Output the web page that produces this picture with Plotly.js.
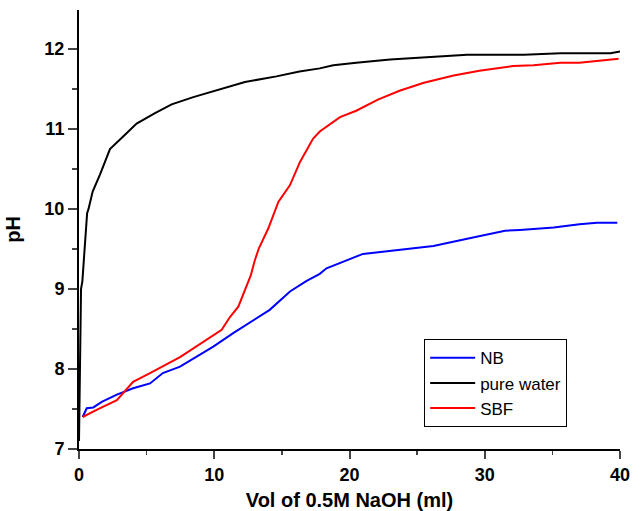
<!DOCTYPE html>
<html><head><meta charset="utf-8">
<script src="https://cdn.plot.ly/plotly-3.0.1.min.js"></script>
<style>html,body{margin:0;padding:0;background:#fff}</style>
</head><body>
<div id="chart" style="width:641px;height:511px"></div>
<script>
const seriesNames = ["NB", "pure water", "SBF"];
const seriesColors = ["#0000ff", "#000000", "#ff0000"];
const xTickVals = [0, 10, 20, 30, 40];
const yTickVals = [7, 8, 9, 10, 11, 12];

const nbX = [0.27, 0.57, 1.06, 1.68, 2.8, 4.0, 5.25, 6.2, 7.47, 9.93, 11.4, 14.1, 15.6, 16.8, 17.8, 18.3, 21.0, 23.2, 26.2, 28.7, 31.5, 32.6, 35.1, 37.0, 38.3, 39.8];
const nbY = [7.40, 7.51, 7.52, 7.59, 7.68, 7.76, 7.82, 7.95, 8.03, 8.28, 8.45, 8.74, 8.97, 9.10, 9.19, 9.26, 9.44, 9.48, 9.54, 9.63, 9.73, 9.74, 9.77, 9.81, 9.83, 9.83];

const waterX = [0.0, 0.08, 0.15, 0.25, 0.32, 0.4, 0.6, 0.7, 1.01, 1.55, 2.29, 3.4, 4.26, 5.62, 6.85, 8.45, 10.18, 12.27, 14.6, 16.3, 17.8, 18.8, 20.5, 23.0, 25.7, 28.7, 32.9, 35.6, 39.3, 40.0];
const waterY = [7.10, 8.3, 9.0, 9.1, 9.26, 9.51, 9.95, 10.0, 10.22, 10.43, 10.75, 10.93, 11.07, 11.2, 11.31, 11.40, 11.49, 11.59, 11.66, 11.72, 11.76, 11.80, 11.83, 11.87, 11.90, 11.93, 11.93, 11.95, 11.95, 11.97];

const sbfX = [0.27, 1.3, 2.8, 4.0, 5.25, 7.47, 10.55, 11.16, 11.78, 12.27, 12.7, 13.0, 13.3, 14.0, 14.74, 15.6, 16.34, 17.3, 17.8, 19.3, 20.5, 22.1, 23.7, 25.5, 27.7, 29.6, 32.1, 33.6, 35.6, 37.0, 39.9];
const sbfY = [7.40, 7.49, 7.61, 7.84, 7.95, 8.15, 8.49, 8.65, 8.78, 8.99, 9.17, 9.36, 9.51, 9.76, 10.09, 10.3, 10.59, 10.88, 10.97, 11.15, 11.23, 11.37, 11.48, 11.58, 11.67, 11.73, 11.79, 11.80, 11.83, 11.83, 11.88];

const xs = [nbX, waterX, sbfX];
const ys = [nbY, waterY, sbfY];

const data = seriesNames.map((n, i) => ({
  x: xs[i], y: ys[i], name: n, type: "scatter", mode: "lines",
  line: {color: seriesColors[i], width: 2}
}));

const FAM = "Liberation Sans, Arial, sans-serif";
const layout = {
  width: 641, height: 511,
  margin: {l: 79, r: 21, t: 10, b: 62},
  paper_bgcolor: "#fff", plot_bgcolor: "#fff",
  font: {family: FAM, color: "#000"},
  showlegend: true,
  legend: {
    x: 0.638, y: 0.25, xanchor: "left", yanchor: "top",
    bordercolor: "#000", borderwidth: 1, bgcolor: "#fff",
    font: {family: FAM, size: 17, color: "#000"},
    itemwidth: 45, tracegroupgap: 0
  },
  xaxis: {
    range: [0, 40], tickvals: xTickVals, ticktext: xTickVals.map(String),
    ticks: "outside", ticklen: 8, tickwidth: 2,
    minor: {dtick: 5, ticks: "outside", ticklen: 4, tickwidth: 1.5},
    showline: true, linewidth: 2, linecolor: "#000", showgrid: false, zeroline: false,
    tickfont: {family: FAM, size: 18, color: "#000", weight: 700},
    title: {text: "Vol of 0.5M NaOH (ml)", font: {size: 20, family: FAM, weight: 700}, standoff: 12}
  },
  yaxis: {
    range: [7, 12.49], tickvals: yTickVals, ticktext: yTickVals.map(String),
    ticks: "outside", ticklen: 9, tickwidth: 2,
    minor: {dtick: 0.5, ticks: "outside", ticklen: 5, tickwidth: 1.5},
    showline: true, linewidth: 2, linecolor: "#000", showgrid: false, zeroline: false,
    tickfont: {family: FAM, size: 18, color: "#000", weight: 700},
    title: {text: "pH", font: {size: 20, family: FAM, weight: 700}, standoff: 18}
  },
  xaxis2: {
    overlaying: "x", side: "top", anchor: "y", range: [0, 40], dtick: 5, ticks: "inside", ticklen: 4, tickwidth: 1.5,
    showticklabels: false, showline: true, linewidth: 2, linecolor: "#000", showgrid: false, zeroline: false
  },
  yaxis2: {
    overlaying: "y", side: "right", anchor: "x", range: [7, 12.49], dtick: 0.5, tick0: 7, ticks: "inside", ticklen: 5, tickwidth: 1.5,
    showticklabels: false, showline: true, linewidth: 2, linecolor: "#000", showgrid: false, zeroline: false
  }
};

Plotly.newPlot("chart", data, layout, {displayModeBar: false, staticPlot: true});
</script>
</body></html>
